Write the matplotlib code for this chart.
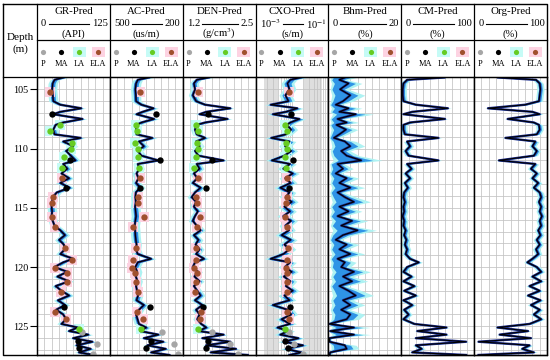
"""
Well-log prediction panel: GR, AC, DEN, CXO, Bhm, CM, Org tracks vs depth
"""

import numpy as np
import matplotlib
matplotlib.use("Agg")
from matplotlib import pyplot as plt
from matplotlib.patches import Rectangle

plt.rcParams['font.family'] = ['Liberation Serif', 'DejaVu Serif']
plt.rcParams['mathtext.fontset'] = 'stix'

# depth knots of the predicted curves (m)
DEPTH = [104.0, 104.2, 104.5, 105.0, 105.5,
         106.0, 106.3, 106.6, 106.9, 107.1,
         107.5, 107.8, 108.0, 108.4, 108.8,
         109.1, 109.4, 109.8, 110.2, 110.6,
         111.0, 111.3, 111.7, 112.1, 112.5,
         112.9, 113.3, 113.7, 114.1, 114.5,
         114.9, 115.3, 115.7, 116.1, 116.5,
         116.9, 117.3, 117.7, 118.1, 118.5,
         118.9, 119.3, 119.6, 120.0, 120.4,
         120.8, 121.2, 121.6, 122.0, 122.4,
         122.8, 123.2, 123.6, 124.0, 124.4,
         124.8, 125.1, 125.4, 125.7, 126.0,
         126.3, 126.6, 126.9, 127.2, 127.42]

GR = [45, 30, 27, 26, 27,
      28, 40, 76, 40, 28,
      78, 45, 32, 28, 30,
      75, 45, 62, 50, 58,
      66, 45, 52, 42, 55,
      40, 56, 34, 27, 26,
      25, 26, 25, 27, 30,
      40, 48, 38, 46, 48,
      40, 62, 45, 30, 52,
      35, 55, 32, 42, 55,
      36, 48, 33, 45, 50,
      42, 70, 55, 88, 62,
      95, 68, 92, 72, 98]

AC = [340, 385, 392, 395, 393,
      392, 370, 320, 365, 390,
      318, 370, 390, 392, 390,
      325, 380, 360, 385, 370,
      300, 385, 378, 390, 382,
      392, 375, 393, 395, 393,
      396, 394, 392, 395, 398,
      396, 395, 393, 390, 393,
      385, 330, 385, 395, 388,
      393, 386, 392, 388, 384,
      390, 360, 380, 392, 386,
      380, 350, 375, 300, 360,
      280, 345, 270, 330, 255]

DEN = [1.66, 1.45, 1.40, 1.42, 1.38,
       1.44, 1.60, 2.05, 1.62, 1.50,
       2.00, 1.60, 1.45, 1.42, 1.45,
       1.60, 1.44, 1.50, 1.42, 1.48,
       1.93, 1.45, 1.50, 1.40, 1.46,
       1.38, 1.52, 1.42, 1.36, 1.44,
       1.40, 1.47, 1.42, 1.38, 1.45,
       1.52, 1.40, 1.48, 1.43, 1.50,
       1.44, 1.58, 1.42, 1.38, 1.47,
       1.41, 1.50, 1.40, 1.46, 1.52,
       1.42, 1.55, 1.44, 1.50, 1.46,
       1.53, 1.62, 1.48, 1.93, 1.55,
       2.05, 1.62, 2.15, 1.70, 2.36]

CXO = [0.017, 0.009, 0.0075, 0.0085, 0.0066,
       0.008, 0.0026, 0.014, 0.0068, 0.003,
       0.016, 0.009, 0.0072, 0.0095, 0.0068,
       0.0027, 0.0085, 0.0065, 0.0095, 0.0062,
       0.0028, 0.0088, 0.0058, 0.0105, 0.0066,
       0.0092, 0.0048, 0.0085, 0.0068, 0.0098,
       0.0062, 0.0088, 0.0058, 0.0094, 0.0066,
       0.0082, 0.0052, 0.0092, 0.0062, 0.0085,
       0.0058, 0.0026, 0.0088, 0.0064, 0.0098,
       0.0060, 0.0090, 0.0068, 0.0105, 0.0062,
       0.0085, 0.0030, 0.0075, 0.0095, 0.0052,
       0.0088, 0.0040, 0.0078, 0.0048, 0.0150,
       0.0060, 0.0200, 0.0070, 0.0180, 0.0085]

BHM = [4.5, 3.0, 5.5, 3.2, 6.0,
       4.0, 2.0, 5.5, 3.0, 7.5,
       2.5, 5.0, 2.2, 4.8, 3.0,
       1.5, 4.5, 6.0, 3.5, 5.0,
       9.0, 2.5, 4.0, 2.0, 5.0,
       3.0, 6.0, 2.5, 4.5, 7.0,
       3.0, 5.5, 2.5, 6.5, 3.5,
       8.0, 4.0, 2.0, 5.0, 3.0,
       6.0, 2.5, 4.5, 3.5, 7.0,
       4.0, 6.5, 3.0, 5.5, 7.5,
       4.0, 6.0, 3.5, 6.0, 5.0,
       0.3, 7.0, 0.5, 7.0, 0.3,
       0.3, 4.5, 5.0, 0.5, 0.3]

CM = [59, 8, 3, 2, 2,
      3, 20, 64, 15, 3,
      60, 12, 3, 3, 5,
      51, 8, 12, 6, 10,
      51, 8, 14, 6, 12,
      5, 9, 4, 3, 5,
      3, 4, 2, 4, 3,
      6, 4, 7, 5, 8,
      6, 12, 24, 8, 3,
      14, 3, 18, 4, 20,
      3, 15, 4, 10, 3,
      18, 62, 22, 62, 20,
      89, 20, 28, 15, 89]

ORG = [33, 85, 90, 91, 90,
       89, 70, 19, 80, 90,
       46, 82, 89, 90, 86,
       43, 84, 80, 86, 82,
       34, 84, 78, 86, 80,
       88, 82, 90, 92, 89,
       92, 90, 93, 90, 92,
       88, 91, 86, 90, 85,
       88, 80, 73, 86, 92,
       80, 92, 76, 90, 74,
       91, 78, 90, 82, 92,
       76, 32, 74, 35, 78,
       6, 76, 66, 82, 6]

# core samples (shared depths / lithofacies classes)
SAMPLE_DEPTH = [105.2, 107.1, 108.0, 108.5, 109.5, 110.0, 110.7, 111.0, 111.6, 112.5,
                113.3, 114.1, 114.6, 115.8, 116.6, 118.4, 119.4, 120.1, 120.5, 121.3,
                122.1, 123.4, 123.8, 124.4, 125.2, 125.5, 126.2, 126.5, 126.8, 127.3]
SAMPLE_CLASS = ['ELA', 'MA', 'LA', 'LA', 'LA', 'LA', 'LA', 'MA', 'LA', 'ELA',
                'MA', 'ELA', 'ELA', 'ELA', 'ELA', 'ELA', 'ELA', 'ELA', 'ELA', 'ELA',
                'ELA', 'MA', 'ELA', 'ELA', 'LA', 'P', 'MA', 'P', 'MA', 'P']
GR_SAMPLE = [22, 25, 39, 22, 60, 58, 46, 56, 43, 43, 50, 27, 26, 26, 31,
             48, 60, 31, 51, 51, 41, 46, 31, 50, 72, 77, 70, 103, 72, 96]
AC_SAMPLE = [377, 311, 393, 389, 397, 385, 385, 295, 381, 377, 377, 385, 385, 360, 405,
             393, 405, 410, 397, 393, 385, 336, 390, 364, 373, 286, 332, 237, 352, 220]
DEN_SAMPLE = [1.47, 1.66, 1.43, 1.47, 1.45, 1.47, 1.43, 1.73, 1.40, 1.48, 1.61, 1.44, 1.45, 1.50, 1.45,
              1.43, 1.43, 1.41, 1.45, 1.43, 1.42, 1.57, 1.52, 1.51, 1.47, 1.73, 1.66, 2.05, 1.61, 2.18]
CXO_SAMPLE = [0.0085, 0.0095, 0.0066, 0.0072, 0.0068, 0.0075, 0.0064, 0.0105, 0.0070, 0.0072,
              0.0085, 0.0075, 0.0070, 0.0066, 0.0072, 0.0078, 0.0072, 0.0070, 0.0075, 0.0072,
              0.0075, 0.0090, 0.0072, 0.0085, 0.0066, 0.0085, 0.0065, 0.011, 0.0078, 0.020]

CLASSES = ['P', 'MA', 'LA', 'ELA']
CLASS_COLOR = {'P': '#a6a6a6', 'MA': '#000000', 'LA': '#66cc22', 'ELA': '#a0502e'}
CLASS_HILITE = {'LA': '#c6fbf6', 'ELA': '#fdd3e2'}

depth = np.array(DEPTH)
sdepth = np.array(SAMPLE_DEPTH)
sclass = np.array(SAMPLE_CLASS)

tracks = [
    dict(name='GR-Pred', lo=0, hi=125, lo_lab='0', hi_lab='125', unit='(API)',
         curve=GR, dots=GR_SAMPLE, band=(4, 8), log=False),
    dict(name='AC-Pred', lo=500, hi=200, lo_lab='500', hi_lab='200', unit='(us/m)',
         curve=AC, dots=AC_SAMPLE, band=(10, 20), log=False),
    dict(name='DEN-Pred', lo=1.2, hi=2.5, lo_lab='1.2', hi_lab='2.5', unit='(g/cm$^3$)',
         curve=DEN, dots=DEN_SAMPLE, band=(0.04, 0.08), log=False),
    dict(name='CXO-Pred', lo=1e-3, hi=1e-1, lo_lab='10$^{-3}$', hi_lab='10$^{-1}$', unit='(s/m)',
         curve=CXO, dots=CXO_SAMPLE, band=(1.25, 1.5), log=True),
    dict(name='Bhm-Pred', lo=0, hi=20, lo_lab='0', hi_lab='20', unit='(%)',
         curve=BHM, dots=None, band=None, log=False),
    dict(name='CM-Pred', lo=0, hi=100, lo_lab='0', hi_lab='100', unit='(%)',
         curve=CM, dots=None, band=(2.5, 5), log=False),
    dict(name='Org-Pred', lo=0, hi=100, lo_lab='0', hi_lab='100', unit='(%)',
         curve=ORG, dots=None, band=(2.5, 5), log=False),
]

# layout in pixels
W, H = 550, 360
LEFT, RIGHT, TOP, BOTTOM = 3, 547, 4, 355
DEPTH_COL = 37
ROW1, ROW2 = 40, 77
edges = np.linspace(DEPTH_COL, RIGHT, len(tracks) + 1)

OUTER_C = '#aef2f2'
INNER_C = '#2f94e6'
EDGE_C = '#1c2c8e'
GRID_C = '#c2c2c2'

fig = plt.figure(figsize=(5.5, 3.6), dpi=100)

for i, tr in enumerate(tracks):
    x0, x1 = edges[i], edges[i + 1]
    ax = fig.add_axes([x0 / W, 1 - BOTTOM / H, (x1 - x0) / W, (BOTTOM - ROW2) / H])
    if tr['log']:
        ax.set_xscale('log')
    ax.set_xlim(tr['lo'], tr['hi'])
    ax.set_ylim(127.42, 103.96)
    ax.set_axisbelow(True)

    if tr['log']:
        ax.xaxis.set_major_locator(matplotlib.ticker.LogLocator(base=10))
        ax.xaxis.set_minor_locator(matplotlib.ticker.LogLocator(base=10, subs=np.arange(2, 10)))
        # greyish shading where the log grid is dense
        ax.axvspan(1.7e-3, 4e-3, color='#dedede', lw=0, zorder=0)
        ax.axvspan(2.1e-2, 6.5e-2, color='#dedede', lw=0, zorder=0)
    else:
        ax.set_xticks(np.linspace(tr['lo'], tr['hi'], 11))
    ax.set_yticks(np.arange(105, 126, 5))
    ax.set_yticks(np.arange(104, 128), minor=True)
    ax.grid(which='both', color=GRID_C, lw=0.55)
    ax.tick_params(which='both', length=0, labelbottom=False, labelleft=False)
    if i == 0:
        ax.tick_params(axis='y', which='major', left=True, length=5, width=0.8,
                       labelleft=True, labelsize=7.3, pad=1.5)
    for sp in ax.spines.values():
        sp.set_linewidth(0.9)

    v = np.array(tr['curve'], dtype=float)
    if tr['name'] == 'Bhm-Pred':
        ax.fill_betweenx(depth, v * 0.15, v * 1.6 + 0.4, color=OUTER_C, lw=0)
        ax.fill_betweenx(depth, v * 0.3, v * 1.35, color=INNER_C, lw=0)
    elif tr['log']:
        inner, outer = tr['band']
        ax.fill_betweenx(depth, v / outer, v * outer, color=OUTER_C, lw=0)
        ax.fill_betweenx(depth, v / inner, v * inner, color=INNER_C, lw=0)
    else:
        inner, outer = tr['band']
        ax.fill_betweenx(depth, v - outer, v + outer, color=OUTER_C, lw=0)
        ax.fill_betweenx(depth, v - inner, v + inner, color=INNER_C, lw=0)
    ax.plot(v, depth, color=EDGE_C, lw=1.7, solid_joinstyle='round')
    ax.plot(v, depth, color='black', lw=0.8)

    if tr['dots'] is not None:
        sv = np.array(tr['dots'], dtype=float)
        for c in ['LA', 'ELA']:
            m = sclass == c
            ax.scatter(sv[m], sdepth[m], marker='s', s=55, color=CLASS_HILITE[c],
                       lw=0, zorder=1.5)
        for c in CLASSES:
            m = sclass == c
            ax.scatter(sv[m], sdepth[m], s=21, color=CLASS_COLOR[c], lw=0, zorder=5)

# overlay in pixel coordinates for header and frame
ov = fig.add_axes([0, 0, 1, 1])
ov.set_xlim(0, W)
ov.set_ylim(H, 0)
ov.axis('off')

ov.plot([LEFT, RIGHT, RIGHT, LEFT, LEFT], [TOP, TOP, BOTTOM, BOTTOM, TOP], color='black', lw=1.0)
ov.plot([DEPTH_COL, RIGHT], [ROW1, ROW1], color='black', lw=0.9)
ov.plot([LEFT, RIGHT], [ROW2, ROW2], color='black', lw=0.9)
for e in edges[:-1]:
    ov.plot([e, e], [TOP, BOTTOM], color='black', lw=0.9)

ov.text((LEFT + DEPTH_COL) / 2, 37, 'Depth', ha='center', va='center', fontsize=8)
ov.text((LEFT + DEPTH_COL) / 2, 49, '(m)', ha='center', va='center', fontsize=8)

scale_texts = []
for i, tr in enumerate(tracks):
    x0, x1 = edges[i], edges[i + 1]
    xc = (x0 + x1) / 2
    w = x1 - x0
    ov.text(xc, 12, tr['name'], ha='center', va='center', fontsize=7.8)
    tl = ov.text(x0 + 4, 24, tr['lo_lab'], ha='left', va='center', fontsize=7.6)
    tr_ = ov.text(x1 - 2, 24, tr['hi_lab'], ha='right', va='center', fontsize=7.6)
    scale_texts.append((tl, tr_))
    ov.text(xc, 34, tr['unit'], ha='center', va='center', fontsize=7.6)

    for k, c in enumerate(CLASSES):
        xm = x0 + w * [0.08, 0.33, 0.58, 0.84][k]
        if c in CLASS_HILITE:
            ov.add_patch(Rectangle((xm - 6.5, 47), 13, 10, color=CLASS_HILITE[c], lw=0))
        ov.scatter([xm], [52], s=14, color=CLASS_COLOR[c], lw=0, zorder=5)
        ov.text(xm, 64, c, ha='center', va='center', fontsize=6)

# scale lines between the range labels
fig.canvas.draw()
renderer = fig.canvas.get_renderer()
for tl, tr_ in scale_texts:
    xl = tl.get_window_extent(renderer).x1
    xr = tr_.get_window_extent(renderer).x0
    ov.plot([xl + 2.5, xr - 2.5], [24, 24], color='black', lw=0.8)

fig.savefig('out.png', dpi=100)
